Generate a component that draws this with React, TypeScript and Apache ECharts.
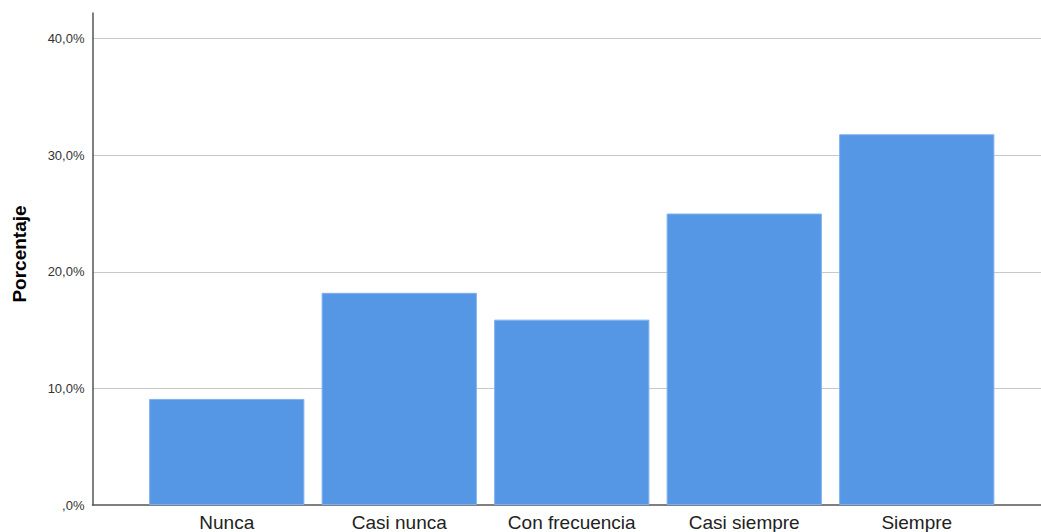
import React, { useEffect, useRef } from "react";
import * as echarts from "echarts";

const categories = ["Nunca", "Casi nunca", "Con frecuencia", "Casi siempre", "Siempre"];
const percentages = [9.1, 18.2, 15.9, 25.0, 31.8];
const yTitle = "Porcentaje";
const yMax = 42.2;
const yInterval = 10;

export default function App() {
  const ref = useRef<HTMLDivElement>(null);
  useEffect(() => {
    if (!ref.current) return;
    const chart = echarts.init(ref.current, undefined, { renderer: "svg" });
    const font = "'Liberation Sans', Arial, sans-serif";
    chart.setOption({
      animation: false,
      backgroundColor: "#ffffff",
      grid: [
        { left: 92.5, right: 0, top: 13, bottom: 27 },
        { left: 140.5, right: 38, top: 13, bottom: 27 },
      ],
      graphic: [
        {
          type: "text",
          x: 19.5,
          y: 254,
          rotation: Math.PI / 2,
          style: {
            text: yTitle,
            fill: "#000000",
            font: "bold 19px 'Liberation Sans', Arial, sans-serif",
            textAlign: "center",
            textVerticalAlign: "middle",
          },
        },
      ],
      xAxis: [
        {
          gridIndex: 0,
          type: "value",
          min: 0,
          max: 1,
          axisLine: { show: true, lineStyle: { color: "#555555", width: 1.5 } },
          axisTick: { show: false },
          axisLabel: { show: false },
          splitLine: { show: false },
        },
        {
          gridIndex: 1,
          type: "category",
          data: categories,
          axisLine: { show: false },
          axisTick: { show: false },
          axisLabel: { color: "#222222", fontSize: 19, fontFamily: font, margin: 8 },
        },
      ],
      yAxis: [
        {
          gridIndex: 0,
          type: "value",
          min: 0,
          max: yMax,
          interval: yInterval,
          axisLine: { show: true, lineStyle: { color: "#555555", width: 1.5 } },
          axisTick: { show: false },
          axisLabel: {
            color: "#333333",
            fontSize: 13,
            fontFamily: font,
            margin: 8,
            showMaxLabel: false,
            formatter: (v: number) => (v === 0 ? ",0%" : v.toFixed(1).replace(".", ",") + "%"),
          },
          splitLine: { show: true, showMaxLine: false, showMinLine: false, lineStyle: { color: "#c8c8c8", width: 1 } },
        },
        {
          gridIndex: 1,
          type: "value",
          min: 0,
          max: yMax,
          show: false,
          splitLine: { show: false },
        },
      ],
      series: [
        {
          type: "bar",
          xAxisIndex: 1,
          yAxisIndex: 1,
          data: percentages,
          barCategoryGap: "10%",
          itemStyle: { color: "#5596e5", borderColor: "#80b1ee", borderWidth: 1 },
          z: 3,
        },
      ],
    });
    return () => chart.dispose();
  }, []);
  return <div ref={ref} style={{ width: 1041, height: 532, position: "absolute", left: 0, top: 0 }} />;
}
